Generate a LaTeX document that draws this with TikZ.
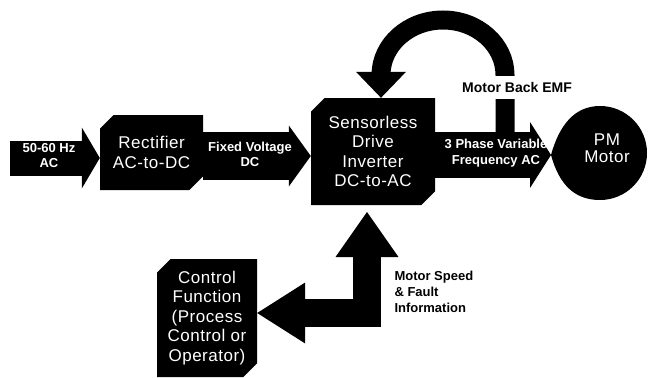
\documentclass[tikz,border=0pt]{standalone}
\usepackage{fontspec}
\setmainfont{Liberation Sans}
\newfontfamily\boxfont[LetterSpace=3]{Liberation Sans}
\usetikzlibrary{arrows.meta, shapes.misc}

\tikzset{
  block/.style={chamfered rectangle, chamfered rectangle corners={north west, south east},
    chamfered rectangle xsep=10pt, fill=black, text=white, inner sep=0pt, align=center,
    font=\boxfont\fontsize{17}{19.5}\selectfont},
  flowtext/.style={text=white, align=center, font=\bfseries\fontsize{13}{15.5}\selectfont},
  sidetext/.style={text=black, align=left, font=\bfseries\fontsize{13}{16}\selectfont},
}

\begin{document}
\begin{tikzpicture}[x=1pt, y=-1pt]
            \useasboundingbox (0,0) rectangle (649,378);

            % boxes
            \node[block, minimum width=103pt, minimum height=75pt] (rect) at (151.5,152.5)
                {Rectifier\\AC-to-DC};
            \node[block, minimum width=124pt, minimum height=107pt] (drive) at (373,151.5)
                {Sensorless\\Drive\\Inverter\\DC-to-AC};
            \node[block, minimum width=100pt, minimum height=118pt] (ctrl) at (207,318)
                {Control\\Function\\(Process\\Control or\\Operator)};

            % motor
            \fill (551,155) .. controls (559,126) and (574,106) .. (600,106)
                arc[start angle=-90, end angle=90, radius=47]
                .. controls (574,200) and (559,184) .. cycle;
            \node[text=white, align=center, font=\boxfont\fontsize{17}{17.5}\selectfont] (motor) at (607,148) {PM\\Motor};
            \coordinate (mtip) at (551,155);

            \coordinate (acin) at (10,158);
            \coordinate (fv) at (0,156);
            \coordinate (ph) at (0,155);
            \coordinate (emf) at (505,132);
            \coordinate (tipx) at (381,0);
            \coordinate (hb) at (0,313);
            \coordinate (bend) at (367,313);
            \coordinate (up) at (367,212);

            % straight arrows
            \draw[line width=35pt, -{Triangle[length=18pt, width=61pt, line width=0pt]}]
                (acin) -- (acin -| rect.west);
            \draw[line width=48pt, -{Triangle[length=22pt, width=61pt, line width=0pt]}]
                (rect.east |- fv) -- (drive.west |- fv);
            \draw[line width=46pt, -{Triangle[length=21pt, width=66pt, line width=0pt]}]
                (drive.east |- ph) -- (mtip);

            % back emf loop
            \draw[line width=19pt, -{Triangle[length=26pt, width=50pt, line width=0pt]}]
                (emf) -- ++(0,-57) arc[start angle=0, end angle=-180, x radius=62, y radius=55]
                -- (drive.north -| tipx);

            % speed and fault feedback
            \draw[line width=28pt, line join=miter,
                {Triangle[length=48pt, width=61pt, line width=0pt]}-{Triangle[length=45pt, width=63pt, line width=0pt]}]
                (ctrl.east |- hb) -- (bend) -- (up);

            % labels
            \node[flowtext] (ac) at (49,155.5) {50-60 Hz\\AC};
            \node[flowtext] (dc) at (250,154.5) {Fixed Voltage\\DC};
            \node[flowtext] (vf) at (496,153) {3 Phase Variable\\Frequency AC};
            \node[sidetext, font=\bfseries\fontsize{14}{16}\selectfont, fill=white,
                inner xsep=2pt, inner ysep=6pt] (back) at (517,87.5) {Motor Back EMF};
            \node[sidetext, anchor=west] (info) at (391,292) {Motor Speed\\\& Fault\\Information};
\end{tikzpicture}
\end{document}
